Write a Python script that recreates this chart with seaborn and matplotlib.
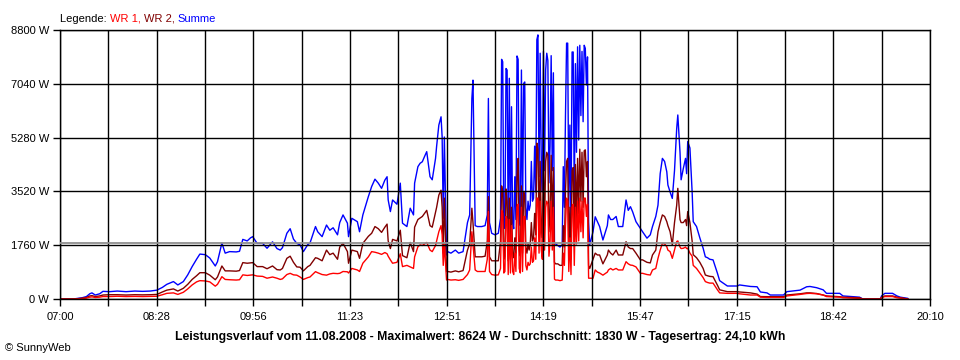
from matplotlib import pyplot as plt
import numpy as np
import pandas as pd
import seaborn as sns

# Messzeitpunkte in Minuten nach 07:00 und Leistung in W
minuten = [0, 12, 16, 20, 24, 27, 29, 32, 36, 39, 45, 52, 60, 68, 75, 82, 88, 93, 97, 103,
           107, 112, 116, 120, 124, 127, 132, 136, 141, 143, 147, 150, 154, 160, 163, 166, 170, 173, 175, 179,
           184, 188, 193, 197, 200, 202, 206, 209, 212, 215, 218, 221, 225, 227, 232, 234, 238, 242, 245, 248,
           252, 254, 257, 261, 262, 265, 270, 272, 275, 280, 283, 286, 289, 292, 295, 297, 298, 300, 302, 306,
           309, 311, 315, 318, 321, 322, 325, 327, 329, 331, 333, 336, 338, 341, 342, 344, 346, 347, 348, 349,
           351, 352, 355, 359, 362, 366, 370, 372, 374, 375, 377, 379, 383, 386, 388, 389, 390, 392, 395, 398,
           400, 401, 402, 403, 404, 405, 406, 407, 408, 409, 410, 411, 412, 413, 414, 415, 416, 417, 418, 419,
           420, 421, 422, 423, 424, 425, 426, 427, 428, 429, 430, 431, 432, 433, 434, 435, 436, 437, 438, 439,
           440, 441, 442, 443, 444, 445, 446, 447, 448, 449, 450, 452, 454, 456, 457, 458, 459, 460, 461, 462,
           463, 464, 465, 466, 467, 468, 469, 470, 471, 472, 473, 474, 475, 476, 477, 478, 479, 480, 481, 484,
           486, 488, 490, 493, 497, 498, 500, 502, 505, 507, 511, 514, 516, 518, 520, 523, 527, 529, 533, 536,
           538, 541, 543, 545, 547, 549, 551, 552, 554, 556, 558, 560, 561, 563, 564, 566, 568, 569, 570, 572,
           574, 575, 578, 581, 584, 586, 588, 590, 593, 597, 599, 606, 615, 617, 627, 633, 636, 642, 645, 657,
           660, 672, 678, 681, 687, 693, 696, 708, 711, 726, 729, 745, 746, 749, 756, 760, 763, 770]

wr1 = [0, 0, 5, 15, 30, 60, 70, 50, 60, 80, 80, 90, 80, 85, 80, 85, 90, 140, 185, 200,
       150, 220, 330, 460, 560, 600, 590, 560, 420, 480, 730, 640, 630, 620, 630, 790, 770, 780, 790, 750,
       740, 680, 720, 680, 640, 660, 800, 840, 790, 780, 720, 640, 700, 720, 895, 860, 800, 780, 820, 840,
       830, 840, 900, 890, 850, 1000, 950, 900, 1170, 1380, 1550, 1530, 1500, 1460, 1520, 1480, 1400, 1280, 1170, 1200,
       1480, 1060, 1100, 1050, 1000, 1380, 1710, 1770, 1750, 1800, 1850, 1600, 1550, 1750, 1900, 2200, 2400, 2100, 1100, 1800,
       620, 640, 620, 630, 610, 640, 800, 950, 2200, 1800, 950, 900, 900, 900, 1300, 2860, 900, 800, 780, 790,
       1000, 2900, 2800, 850, 900, 2700, 2600, 800, 2600, 850, 2400, 900, 800, 1500, 900, 3000, 3100, 1000, 850, 3000,
       900, 2700, 2700, 1100, 950, 1200, 1100, 1150, 1700, 1200, 1250, 2000, 1300, 3300, 3300, 1500, 3200, 1600, 1300, 3200,
       1600, 3000, 3200, 3100, 1400, 1900, 3200, 1600, 3000, 650, 620, 620, 600, 620, 1500, 1100, 2400, 3300, 3200, 900,
       2000, 800, 3000, 3100, 1100, 3000, 1800, 3200, 1900, 3300, 2200, 3200, 2000, 3300, 3300, 2700, 3100, 680, 680, 680,
       950, 880, 850, 780, 880, 950, 1000, 950, 1000, 950, 950, 1220, 1150, 1110, 1100, 1050, 840, 840, 800, 785,
       950, 1000, 1330, 1600, 1820, 1800, 1710, 1600, 1550, 1330, 1600, 1880, 1900, 1700, 1650, 1660, 1700, 1650, 1660, 1500,
       1400, 1100, 1000, 850, 700, 570, 540, 520, 520, 300, 200, 185, 185, 170, 130, 130, 60, 50, 50, 50,
       100, 150, 180, 185, 170, 130, 80, 60, 40, 20, 0, 0, 40, 80, 80, 40, 30, 0]

wr2 = [0, 0, 10, 25, 50, 100, 110, 80, 100, 130, 140, 140, 130, 140, 135, 140, 150, 230, 290, 330,
       260, 350, 480, 640, 760, 860, 860, 780, 630, 720, 1080, 920, 920, 910, 930, 1190, 1170, 1180, 1190, 1060,
       1060, 990, 1080, 960, 950, 1000, 1330, 1400, 1200, 1050, 1040, 920, 1060, 1100, 1350, 1330, 1250, 1600, 1450, 1500,
       1300, 1700, 1820, 1550, 1170, 1600, 1550, 1330, 1820, 2050, 2150, 2370, 2300, 2180, 2350, 2450, 1900, 1650, 1950, 1900,
       2250, 1420, 1350, 1850, 1550, 2350, 2600, 2650, 2700, 2800, 2900, 2400, 2350, 2850, 3000, 3400, 3560, 3000, 1500, 3300,
       900, 900, 880, 920, 890, 930, 1600, 1800, 2970, 2500, 1380, 1380, 1380, 1400, 1900, 3350, 1380, 1250, 1250, 1250,
       1880, 3700, 3500, 1300, 1400, 3600, 3200, 1250, 3300, 1300, 3000, 1500, 1350, 2000, 1500, 4000, 4600, 1600, 1400, 3700,
       1500, 3500, 3400, 1700, 1500, 1800, 1600, 1800, 2500, 1900, 2000, 2800, 2100, 5100, 4900, 2300, 4500, 2500, 2000, 4700,
       2400, 4500, 4800, 4700, 2200, 2900, 4700, 2400, 4300, 1200, 1150, 1150, 1100, 1100, 2400, 1700, 3500, 4500, 4600, 1500,
       3000, 1300, 4200, 4300, 1800, 4400, 2600, 4600, 2800, 4900, 3200, 4800, 3000, 4850, 4880, 4000, 4500, 1100, 1000, 1300,
       1500, 1440, 1440, 1150, 1440, 1600, 1500, 1440, 1600, 1440, 1440, 1875, 1700, 1650, 1650, 1500, 1280, 1280, 1200, 1180,
       1440, 1600, 2200, 2500, 2750, 2700, 2530, 2400, 2200, 1770, 2500, 3070, 3620, 2600, 2500, 2500, 2600, 2400, 2860, 2500,
       1900, 1450, 1350, 1200, 1000, 785, 760, 740, 730, 450, 300, 240, 240, 230, 200, 160, 80, 75, 75, 75,
       130, 170, 200, 200, 180, 130, 100, 75, 60, 40, 0, 0, 60, 100, 100, 60, 40, 0]

summe = [0, 0, 20, 40, 80, 170, 200, 130, 170, 250, 240, 260, 240, 260, 250, 260, 290, 380, 480, 570,
         460, 570, 790, 1060, 1300, 1470, 1450, 1340, 1080, 1220, 1830, 1500, 1550, 1540, 1560, 1950, 1900, 2000, 2040, 1820,
         1820, 1660, 1870, 1650, 1600, 1680, 2150, 2300, 1960, 1820, 1770, 1550, 1780, 1830, 2370, 2200, 2040, 2420, 2250, 2330,
         2100, 2500, 2750, 2480, 2040, 2640, 2530, 2200, 2750, 3350, 3680, 3920, 3790, 3620, 3890, 4000, 3240, 2860, 3240, 3100,
         3790, 2480, 2370, 2970, 2750, 3790, 4330, 4440, 4490, 4660, 4820, 4000, 3900, 4600, 5000, 5690, 5960, 5300, 2640, 5300,
         1440, 1550, 1500, 1600, 1500, 1550, 2500, 2750, 6560, 7160, 2400, 2370, 2370, 2400, 2750, 6560, 2500, 2150, 2100, 2150,
         2640, 7840, 7760, 2300, 2420, 7540, 7490, 2200, 7220, 2400, 6290, 2500, 2300, 4000, 2600, 7950, 7840, 2700, 2400, 7490,
         2600, 7050, 7100, 3000, 2600, 3200, 2900, 3070, 4500, 3200, 3300, 5000, 3500, 8480, 8640, 4000, 8040, 4500, 3500, 8100,
         4200, 7500, 8040, 7800, 3800, 5000, 7960, 4200, 7400, 1830, 1800, 1750, 1700, 1770, 4330, 3000, 6000, 8370, 8370, 3000,
         5690, 2400, 8080, 8080, 3200, 7700, 4800, 8250, 5200, 8300, 6000, 8100, 5800, 8300, 8200, 7000, 7920, 2530, 1770, 2200,
         2690, 2530, 2370, 1930, 2400, 2750, 2600, 2600, 2700, 2370, 2370, 3240, 2900, 3020, 2850, 2530, 2310, 2200, 1990, 2100,
         2370, 2700, 3070, 4100, 4600, 4500, 4160, 3730, 3500, 3290, 4200, 5580, 6020, 4800, 3900, 4270, 4600, 4100, 5150, 4940,
         3510, 2530, 2370, 2000, 1660, 1380, 1350, 1300, 1280, 840, 600, 425, 425, 460, 410, 400, 230, 200, 130, 130,
         240, 290, 400, 410, 370, 300, 185, 185, 100, 60, 0, 0, 100, 185, 185, 100, 60, 20]

zeit_labels = ["07:00", "08:28", "09:56", "11:23", "12:51", "14:19", "15:47", "17:15", "18:42", "20:10"]
y_werte = [0, 1760, 3520, 5280, 7040, 8800]
durchschnitt = 1830
farben = {"Summe": "#0000ff", "WR 2": "#800000", "WR 1": "#ff0000"}

df = pd.DataFrame({"minuten": minuten, "WR 1": wr1, "WR 2": wr2, "Summe": summe})
long_df = df.melt(id_vars="minuten", var_name="reihe", value_name="leistung")

sns.set_theme(style="white")
plt.rcParams["font.family"] = ["Liberation Sans", "DejaVu Sans"]
plt.rcParams["text.color"] = "black"
plt.rcParams["xtick.color"] = "black"
plt.rcParams["ytick.color"] = "black"

fig = plt.figure(figsize=(9.6, 3.6), dpi=100)
ax = fig.add_axes([60 / 960, 61 / 360, 870 / 960, 269 / 360])

sns.lineplot(data=long_df, x="minuten", y="leistung", hue="reihe",
             hue_order=["Summe", "WR 2", "WR 1"], palette=farben,
             estimator=None, linewidth=1.0, legend=False, ax=ax)

ax.axhline(durchschnitt, color="#909090", linewidth=1.3, zorder=2.6)

ax.set_xlim(0, 790)
ax.set_ylim(0, 8800)
x_pos = np.linspace(0, 790, 19)
ax.set_xticks(x_pos)
ax.set_xticklabels([zeit_labels[i // 2] if i % 2 == 0 else "" for i in range(19)])
ax.set_yticks(y_werte)
ax.set_yticklabels([f"{v} W" for v in y_werte])
ax.set_xlabel("")
ax.set_ylabel("")

ax.set_axisbelow(False)
ax.grid(True, color="black", linewidth=1.0)
for s in ax.spines.values():
    s.set_color("black")
    s.set_linewidth(1.0)
ax.tick_params(axis="both", bottom=True, left=True, direction="out", length=5,
               width=1, color="black", labelsize=8)
ax.tick_params(axis="x", pad=4)
ax.tick_params(axis="y", pad=3)

# Legende als farbiger Text
t0 = fig.text(60 / 960, 1 - 21.5 / 360, "Legende: ", fontsize=8, va="baseline")
t1 = ax.annotate("WR 1, ", xy=(1, 0), xycoords=t0, va="bottom", fontsize=8, color=farben["WR 1"])
t2 = ax.annotate("WR 2, ", xy=(1, 0), xycoords=t1, va="bottom", fontsize=8, color=farben["WR 2"])
ax.annotate("Summe", xy=(1, 0), xycoords=t2, va="bottom", fontsize=8, color=farben["Summe"])

fig.text(480 / 960, 1 - 340 / 360,
         "Leistungsverlauf vom 11.08.2008 - Maximalwert: 8624 W - Durchschnitt: 1830 W - Tagesertrag: 24,10 kWh",
         ha="center", va="baseline", fontsize=8.8, fontweight="bold")
fig.text(5 / 960, 1 - 351 / 360, "\u00a9 SunnyWeb", fontsize=8, va="baseline")

fig.savefig("out.png", dpi=100)
